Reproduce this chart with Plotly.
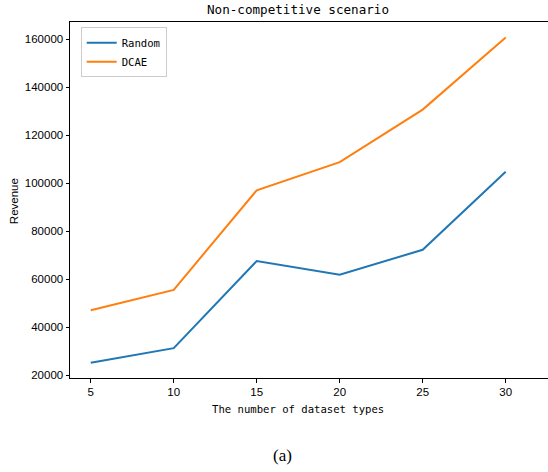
import plotly.graph_objects as go

dataset_types = [5, 10, 15, 20, 25, 30]
random_revenue = [25200, 31300, 67600, 61900, 72300, 104800]
dcae_revenue = [47100, 55600, 97100, 108800, 130700, 160700]
y_ticks = [20000, 40000, 60000, 80000, 100000, 120000, 140000, 160000]
x_ticks = [5, 10, 15, 20, 25, 30]

W, H = 548, 472
L, R, T, B = 70, 0, 22, 94.3
pw = W - L - R
ph = H - T - B

mono = "DejaVu Sans Mono"
sans = "Liberation Sans"

fig = go.Figure()
fig.add_trace(go.Scatter(x=dataset_types, y=random_revenue, mode="lines", name="Random",
                         line=dict(color="#1f77b4", width=2)))
fig.add_trace(go.Scatter(x=dataset_types, y=dcae_revenue, mode="lines", name="DCAE",
                         line=dict(color="#ff7f0e", width=2)))

def px_x(p):
    return (p - L) / pw

def px_y(p):
    return 1 - (p - T) / ph

fig.update_layout(
    width=W, height=H,
    margin=dict(l=L, r=R, t=T, b=B),
    paper_bgcolor="white", plot_bgcolor="white",
    showlegend=True,
    legend=dict(x=px_x(80.7), y=px_y(27.3), xanchor="left", yanchor="top",
                bgcolor="white", bordercolor="#cccccc", borderwidth=1,
                font=dict(family=mono, size=10.6, color="black"),
                itemwidth=30, tracegroupgap=0),
    xaxis=dict(range=[3.75, 32.55], tickvals=x_ticks, ticks="outside", ticklen=3.5,
               tickwidth=1, tickcolor="black", showgrid=False, zeroline=False,
               showline=True, linecolor="black", linewidth=1, mirror=True,
               tickfont=dict(family=sans, size=11.5, color="black")),
    yaxis=dict(range=[18870, 167200], tickvals=y_ticks, ticks="outside", ticklen=3.5,
               tickwidth=1, tickcolor="black", showgrid=False, zeroline=False,
               showline=True, linecolor="black", linewidth=1,
               tickformat="d",
               tickfont=dict(family=sans, size=11.5, color="black")),
    annotations=[
        dict(text="Non-competitive scenario", xref="paper", yref="paper",
             x=px_x(298), y=px_y(9.5), xanchor="center", yanchor="middle",
             showarrow=False, font=dict(family=mono, size=12.6, color="black")),
        dict(text="The number of dataset types", xref="paper", yref="paper",
             x=px_x(298), y=px_y(409), xanchor="center", yanchor="middle",
             showarrow=False, font=dict(family=mono, size=10.6, color="black")),
        dict(text="Revenue", xref="paper", yref="paper", textangle=-90,
             x=px_x(14), y=px_y(201), xanchor="center", yanchor="middle",
             showarrow=False, font=dict(family=sans, size=11.5, color="black")),
        dict(text="(a)", xref="paper", yref="paper",
             x=px_x(282), y=px_y(455), xanchor="center", yanchor="middle",
             showarrow=False, font=dict(family="Liberation Serif", size=17, color="black")),
    ],
)

fig.write_html("out.html", config={"displayModeBar": False},
               post_script="document.body.style.margin='0';document.body.style.overflow='hidden';")
